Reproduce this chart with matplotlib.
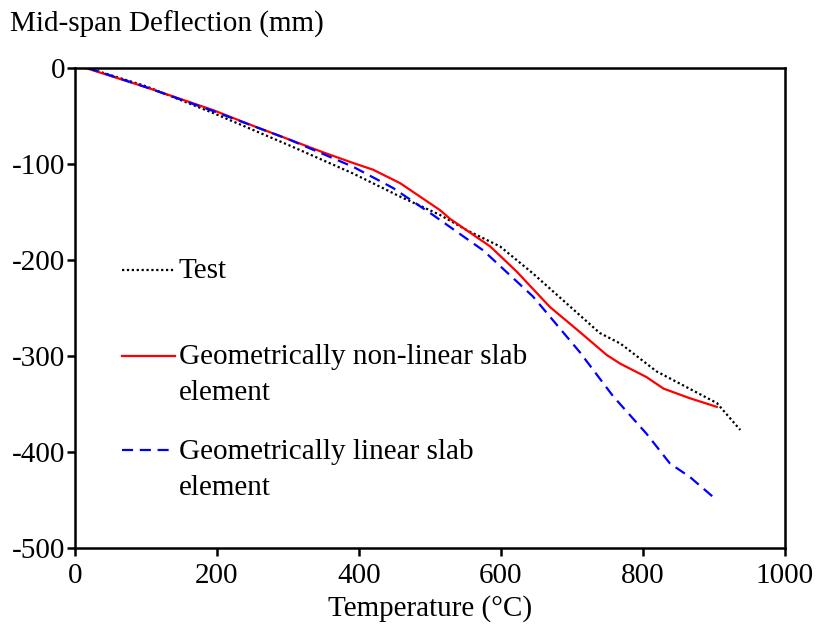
import matplotlib
matplotlib.use("Agg")
import matplotlib.pyplot as plt

plt.rcParams['font.family'] = ['Liberation Serif', 'DejaVu Serif']
plt.rcParams['axes.unicode_minus'] = False

test_T = [18, 100, 195, 300, 392, 458, 514, 552, 599, 645, 692, 739, 768, 777, 805, 819, 904, 937]
test_D = [0, -19, -47, -80, -110, -134, -153, -169, -186, -214, -245, -276, -287, -292, -308, -316, -349, -377]

nl_T = [15, 100, 195, 250, 300, 350, 392, 420, 458, 514, 528, 585, 622, 669, 711, 749, 768, 805, 829, 866, 904]
nl_D = [0, -20, -44, -60, -74, -88, -99, -106, -120, -148, -157, -186, -212, -249, -275, -299, -308, -322, -334, -344, -353]

lin_T = [18, 100, 195, 300, 392, 448, 504, 575, 645, 711, 758, 805, 838, 866, 899]
lin_D = [0, -20, -45, -74, -103, -125, -153, -190, -238, -296, -342, -381, -412, -426, -447]

x_ticks = [0, 200, 400, 600, 800, 1000]
y_ticks = [0, -100, -200, -300, -400, -500]

labels = ["Test", "Geometrically non-linear slab\nelement", "Geometrically linear slab\nelement"]

fig = plt.figure(figsize=(8.19, 6.28), dpi=100)
ax = fig.add_axes([75/819, 1-548/628, 710/819, 480/628])

lw = 1.6
ax.plot(test_T, test_D, color='black', lw=lw, linestyle=(0, (1, 1.2)))
ax.plot(nl_T, nl_D, color='red', lw=lw)
ax.plot(lin_T, lin_D, color='blue', lw=lw, linestyle=(0, (5, 3)))

ax.set_xlim(0, 1000)
ax.set_ylim(-500, 0)
ax.set_xticks(x_ticks)
ax.set_yticks(y_ticks)
fs = 21
ax.tick_params(direction='out', length=6, width=1.8, labelsize=fs, pad=1)
ax.tick_params(axis='x', pad=5)
for s in ax.spines.values():
    s.set_linewidth(1.8)

ax.set_xlabel("Temperature (\u00b0C)", fontsize=fs, labelpad=4)
fig.text(10/819, 1-24/628, "Mid-span Deflection (mm)", fontsize=fs, ha='left', va='center')

# legend drawn manually
leg_x0, leg_x1, txt_x = 66, 141, 146
leg_y = [-210, -300, -398]
styles = [dict(color='black', linestyle=(0, (1, 1.2))),
          dict(color='red', linestyle='-'),
          dict(color='blue', linestyle=(0, (5, 3)))]
for y, st, lab in zip(leg_y, styles, labels):
    ax.plot([leg_x0, leg_x1], [y, y], lw=lw, **st)
    ax.text(txt_x, y + 12, lab, fontsize=fs, ha='left', va='top', linespacing=1.5)

fig.savefig("out.png", dpi=100)
